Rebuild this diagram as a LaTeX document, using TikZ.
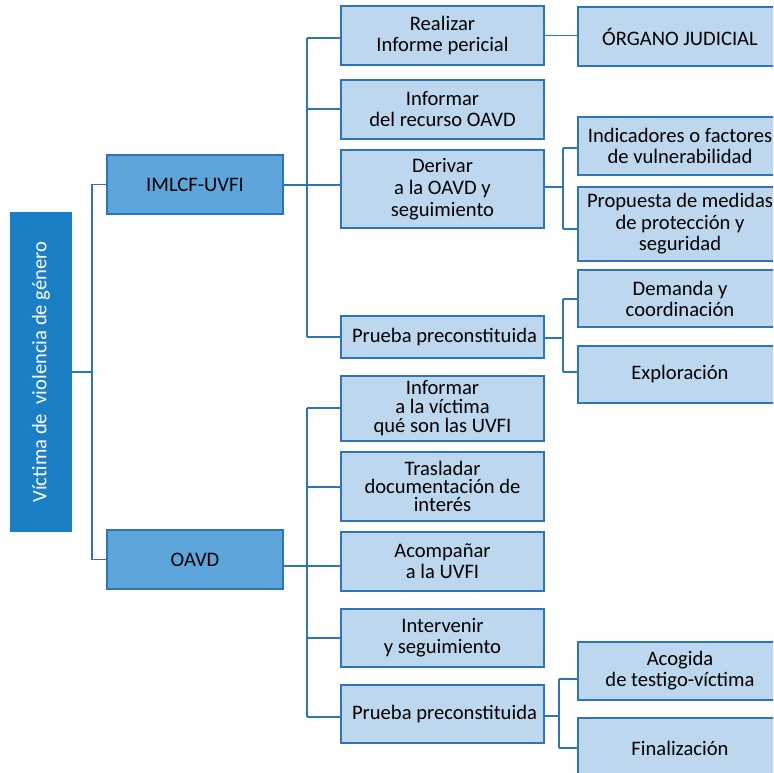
\documentclass[tikz,border=0pt]{standalone}
\usepackage{fontspec}
\setmainfont{Carlito}
\definecolor{rootblue}{HTML}{1A7FC4}
\definecolor{midblue}{HTML}{5DA5DA}
\definecolor{lightblue}{HTML}{BDD7EE}
\definecolor{lineblue}{HTML}{2E75B6}
\begin{document}
\begin{tikzpicture}[x=1pt,y=-1pt,
  conn/.style={draw=lineblue,line width=1.2pt},
  basebox/.style={draw=lineblue,line width=1.2pt,align=center,inner sep=0pt,
    font=\fontsize{20.6}{21}\selectfont,text=black},
  lvlone/.style={basebox,fill=midblue},
  lvltwo/.style={basebox,fill=lightblue},
  rootbox/.style={basebox,draw=rootblue,fill=rootblue,text=white}]
\useasboundingbox (0,0) rectangle (773,773);
\clip (0,0) rectangle (773,773);
% root
\node[rootbox,rotate=90,minimum width=318pt,minimum height=60pt] (root) at (41,372) {Víctima de\ \ violencia de género};
% level one
\node[lvlone,minimum width=176pt,minimum height=59pt] (imlcf) at (195,184.5) {IMLCF-UVFI};
\node[lvlone,minimum width=176pt,minimum height=59pt] (oavd) at (195,559.5) {OAVD};
% level two IMLCF
\node[lvltwo,minimum width=203pt,minimum height=59pt] (A1) at (442.5,35.5) {Realizar\\Informe pericial};
\node[lvltwo,minimum width=203pt,minimum height=59pt] (A2) at (442.5,109.5) {Informar\\del recurso OAVD};
\node[lvltwo,minimum width=203pt,minimum height=78pt,font=\fontsize{20.6}{22}\selectfont] (A3) at (442.5,189) {Derivar\\a la OAVD y\\seguimiento};
\node[lvltwo,minimum width=203pt,minimum height=42pt] (A4) at (442.5,337) {\hspace*{4pt}Prueba preconstituida};
% level two OAVD
\node[lvltwo,minimum width=203pt,minimum height=65pt,font=\fontsize{20.6}{19}\selectfont] (B1) at (442.5,408.5) {Informar\\a la víctima\\qué son las UVFI};
\node[lvltwo,minimum width=203pt,minimum height=69pt,font=\fontsize{20.6}{18}\selectfont] (B2) at (442.5,486.5) {Trasladar\\documentación de\\interés};
\node[lvltwo,minimum width=203pt,minimum height=59pt] (B3) at (442.5,561.5) {Acompañar\\a la UVFI};
\node[lvltwo,minimum width=203pt,minimum height=58pt] (B4) at (442.5,638) {Intervenir\\y seguimiento};
\node[lvltwo,minimum width=203pt,minimum height=58pt] (B5) at (442.5,714) {\hspace*{4pt}Prueba preconstituida};
% level three
\node[lvltwo,minimum width=204pt,minimum height=59pt] (C1) at (680,36.5) {ÓRGANO JUDICIAL};
\node[lvltwo,minimum width=204pt,minimum height=58pt] (C2) at (680,146) {Indicadores o factores\\de vulnerabilidad};
\node[lvltwo,minimum width=204pt,minimum height=74pt,font=\fontsize{20.6}{21.5}\selectfont] (C3) at (680,224) {Propuesta de medidas\\de protección y\\seguridad};
\node[lvltwo,minimum width=204pt,minimum height=57pt] (C4) at (680,298.5) {Demanda y\\coordinación};
\node[lvltwo,minimum width=204pt,minimum height=57pt] (C5) at (680,374.5) {Exploración};
\node[lvltwo,minimum width=204pt,minimum height=58pt] (C6) at (680,671) {Acogida\\de testigo-víctima};
\node[lvltwo,minimum width=204pt,minimum height=60pt] (C7) at (680,748) {Finalización};
% junction coordinates
\coordinate (j0) at (92,372);
\coordinate (p1) at (307,38);
\coordinate (p2) at (307,109);
\coordinate (p3) at (307,185);
\coordinate (p4) at (307,337);
\coordinate (q0) at (563,187);
\coordinate (q1) at (563,148);
\coordinate (q2) at (563,229);
\coordinate (r0) at (563,338);
\coordinate (r1) at (563,299);
\coordinate (r2) at (563,372);
\coordinate (s1) at (307,408);
\coordinate (s2) at (307,487);
\coordinate (s3) at (307,566);
\coordinate (s4) at (307,638);
\coordinate (s5) at (307,717);
\coordinate (t0) at (559,716);
\coordinate (t1) at (559,679);
\coordinate (t2) at (559,748);
% root connectors
\draw[conn] (root.south) -- (j0);
\draw[conn] (imlcf.west) -| (j0) |- (oavd.west);
% IMLCF connectors
\draw[conn] (imlcf.east |- p3) -- (A3.west |- p3);
\draw[conn] (p1) -- (p4);
\draw[conn] (p1) -- (A1.west |- p1);
\draw[conn] (p2) -- (A2.west |- p2);
\draw[conn] (p4) -- (A4.west |- p4);
\draw[conn] (A1.east) -- (C1.west |- A1.east);
\draw[conn] (A3.east |- q0) -- (q0);
\draw[conn] (q1) -- (q2);
\draw[conn] (q1) -- (C2.west |- q1);
\draw[conn] (q2) -- (C3.west |- q2);
\draw[conn] (A4.east |- r0) -- (r0);
\draw[conn] (r1) -- (r2);
\draw[conn] (r1) -- (C4.west |- r1);
\draw[conn] (r2) -- (C5.west |- r2);
% OAVD connectors
\draw[conn] (oavd.east |- s3) -- (B3.west |- s3);
\draw[conn] (s1) -- (s5);
\draw[conn] (s1) -- (B1.west |- s1);
\draw[conn] (s2) -- (B2.west |- s2);
\draw[conn] (s4) -- (B4.west |- s4);
\draw[conn] (s5) -- (B5.west |- s5);
\draw[conn] (B5.east |- t0) -- (t0);
\draw[conn] (t1) -- (t2);
\draw[conn] (t1) -- (C6.west |- t1);
\draw[conn] (t2) -- (C7.west |- t2);
\end{tikzpicture}
\end{document}
